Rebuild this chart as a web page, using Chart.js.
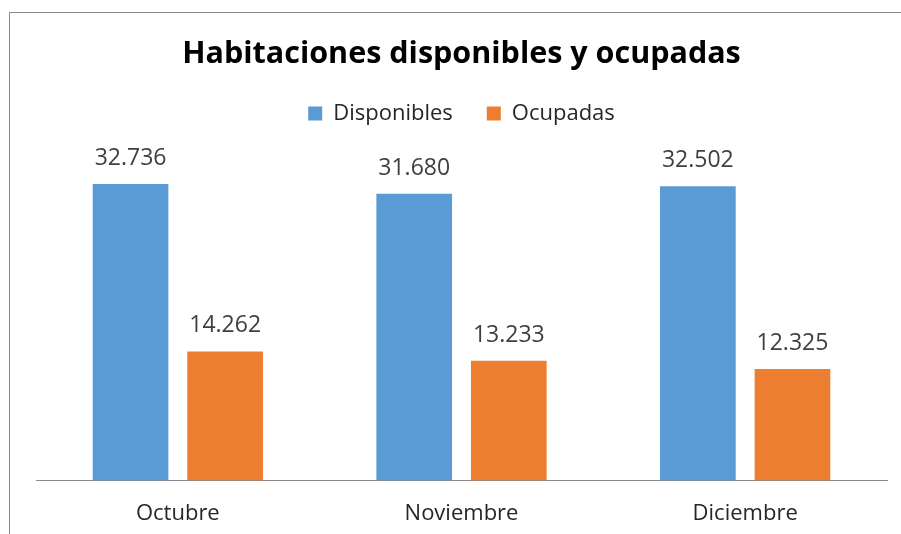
<!DOCTYPE html>
<html>
<head>
<meta charset="utf-8">
<script src="https://cdn.jsdelivr.net/npm/chart.js@4"></script>
<style>
  html, body { margin: 0; padding: 0; background: #fff; }
  #wrap { position: relative; width: 901px; height: 534px; overflow: hidden; }
  #frame { position: absolute; left: 9px; top: 12px; width: 1000px; height: 1000px;
           border-left: 1px solid #8c8c8c; border-top: 1px solid #8c8c8c; }
  canvas { position: absolute; left: 0; top: 0; }
</style>
</head>
<body>
<div id="wrap">
  <div id="frame"></div>
  <canvas id="c" width="901" height="534"></canvas>
</div>
<script>
const chartTitle = 'Habitaciones disponibles y ocupadas';
const categories = ['Octubre', 'Noviembre', 'Diciembre'];
const seriesNames = ['Disponibles', 'Ocupadas'];
const disponibles = [32736, 31680, 32502];
const ocupadas = [14262, 13233, 12325];
const valueLabels = [['32.736', '31.680', '32.502'], ['14.262', '13.233', '12.325']];

const FONT = "'Open Sans', sans-serif";

const dataLabels = {
  id: 'dataLabels',
  afterDatasetsDraw(chart) {
    const ctx = chart.ctx;
    ctx.save();
    ctx.font = '23px ' + FONT;
    ctx.fillStyle = '#404040';
    ctx.textAlign = 'center';
    ctx.textBaseline = 'alphabetic';
    chart.data.datasets.forEach((ds, di) => {
      const meta = chart.getDatasetMeta(di);
      meta.data.forEach((bar, i) => {
        ctx.fillText(valueLabels[di][i], bar.x, bar.y - 19);
      });
    });
    ctx.restore();
  }
};

new Chart(document.getElementById('c'), {
  type: 'bar',
  data: {
    labels: categories,
    datasets: [
      { label: seriesNames[0], data: disponibles, backgroundColor: '#5B9BD5', borderWidth: 0 },
      { label: seriesNames[1], data: ocupadas, backgroundColor: '#ED7D31', borderWidth: 0 }
    ]
  },
  options: {
    responsive: false,
    animation: false,
    events: [],
    layout: { padding: { left: 36, right: 14, top: 0, bottom: -13 } },
    datasets: { bar: { categoryPercentage: 0.667, barPercentage: 0.8 } },
    plugins: {
      title: {
        display: true,
        text: chartTitle,
        color: '#000',
        font: { family: FONT, size: 30.5, weight: 'bold' },
        padding: { top: 36, bottom: -4 }
      },
      legend: {
        display: true,
        position: 'top',
        labels: {
          color: '#262626',
          font: { family: FONT, size: 22 },
          boxWidth: 14,
          boxHeight: 14,
          padding: 34
        }
      },
      tooltip: { enabled: false }
    },
    scales: {
      x: {
        grid: { display: false, drawTicks: false },
        border: { display: true, color: '#8a8a8a', width: 1 },
        ticks: { color: '#262626', font: { family: FONT, size: 22 }, padding: 20 }
      },
      y: {
        display: false,
        min: 0,
        max: 38200
      }
    }
  },
  plugins: [dataLabels]
});
</script>
</body>
</html>
